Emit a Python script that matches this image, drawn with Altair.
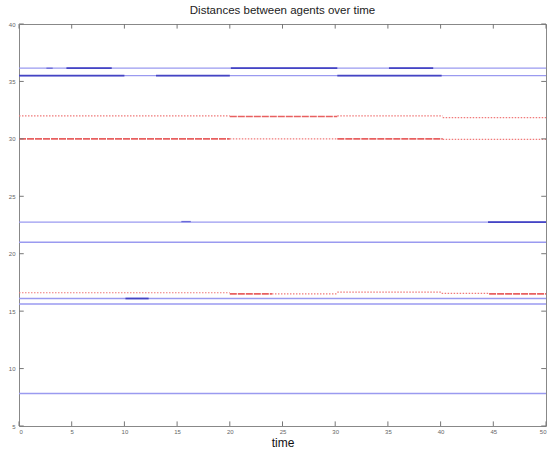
import altair as alt
import pandas as pd

# ---- data ----
# blue distance lines (full span, light)
blue_levels = [36.15, 35.5, 22.75, 21.0, 16.1, 15.62, 7.83]

# darker blue segments: (start, end, value)
blue_dark_start = [4.5, 20.1, 35.1, 0.0, 13.0, 30.2, 44.5, 10.1]
blue_dark_end   = [8.8, 30.2, 39.3, 10.0, 20.0, 40.1, 50.0, 12.3]
blue_dark_value = [36.15, 36.15, 36.15, 35.5, 35.5, 35.5, 22.75, 16.1]

# faint blue dashes
blue_faint_start = [2.6, 15.4]
blue_faint_end   = [3.2, 16.3]
blue_faint_value = [36.15, 22.8]

# red segments: (start, end, value, kind)
red_start = [0.0, 20.0, 30.2, 40.2, 0.0, 20.0, 30.2, 40.2, 0.0, 20.0, 24.0, 30.2, 40.1, 44.6]
red_end   = [20.0, 30.2, 40.2, 50.0, 20.0, 30.2, 40.2, 50.0, 20.0, 24.0, 30.2, 40.1, 44.6, 50.0]
red_value = [32.0, 31.95, 32.0, 31.85, 30.0, 30.0, 30.0, 29.95, 16.6, 16.5, 16.5, 16.65, 16.55, 16.5]
red_kind  = ["dotted", "solid", "dotted", "dotted", "solid", "dotted", "solid", "dotted",
             "dotted", "solid", "dotted", "dotted", "dotted", "solid"]

x_ticks = [0, 5, 10, 15, 20, 25, 30, 35, 40, 45, 50]
y_ticks = [5, 10, 15, 20, 25, 30, 35, 40]

# ---- tables ----
rows = []
for v in blue_levels:
    rows.append({"x0": 0.0, "x1": 50.0, "v": v, "kind": "blue_light"})
for s, e, v in zip(blue_dark_start, blue_dark_end, blue_dark_value):
    rows.append({"x0": s, "x1": e, "v": v, "kind": "blue_dark"})
for s, e, v in zip(blue_faint_start, blue_faint_end, blue_faint_value):
    rows.append({"x0": s, "x1": e, "v": v, "kind": "blue_faint"})
for s, e, v, k in zip(red_start, red_end, red_value, red_kind):
    rows.append({"x0": s, "x1": e, "v": v, "kind": "red_" + k})
segs = pd.DataFrame(rows)

xs = alt.Scale(domain=[0, 50], nice=False, zero=False)
ys = alt.Scale(domain=[5, 40], nice=False, zero=False)


def layer_for(kind, color, width, dash=None):
    props = dict(color=color, strokeWidth=width)
    if dash:
        props["strokeDash"] = dash
    return alt.Chart(segs).transform_filter(alt.datum.kind == kind).mark_rule(**props).encode(
        x=alt.X("x0:Q", scale=xs,
                axis=alt.Axis(values=x_ticks, ticks=False, labelFontSize=6, labelColor="#666",
                              labelPadding=2, domain=False, grid=False, title="time",
                              titleFontSize=12, titleFontWeight="normal", titleColor="#111",
                              titleFont="Liberation Sans", labelFont="Liberation Sans",
                              titlePadding=3)),
        x2="x1:Q",
        y=alt.Y("v:Q", scale=ys,
                axis=alt.Axis(values=y_ticks, ticks=False, labelFontSize=6, labelColor="#666",
                              labelPadding=4, domain=False, grid=False, title=None,
                              labelFont="Liberation Sans")),
    )

l_blue = layer_for("blue_light", "#9a9af0", 1.3)
l_blue_f = layer_for("blue_faint", "#6a6ad8", 1.3)
l_blue_d = layer_for("blue_dark", "#4444c4", 1.7)
l_red_dot = layer_for("red_dotted", "#f07a7a", 1.2, dash=[1.5, 1.5])
l_red_sol = layer_for("red_solid", "#e86060", 1.6, dash=[7, 1])

# inner ticks (MATLAB style box)
xt = pd.DataFrame({"t": x_ticks})
yt = pd.DataFrame({"t": y_ticks})
tick_color = "#777"
bottom_ticks = alt.Chart(xt).mark_rule(color=tick_color, strokeWidth=1).encode(
    x=alt.X("t:Q", scale=xs), y=alt.datum(5, scale=ys), y2=alt.datum(5.4))
top_ticks = alt.Chart(xt).mark_rule(color=tick_color, strokeWidth=1).encode(
    x=alt.X("t:Q", scale=xs), y=alt.datum(40, scale=ys), y2=alt.datum(39.6))
left_ticks = alt.Chart(yt).mark_rule(color=tick_color, strokeWidth=1).encode(
    y=alt.Y("t:Q", scale=ys), x=alt.datum(0, scale=xs), x2=alt.datum(0.45))
right_ticks = alt.Chart(yt).mark_rule(color=tick_color, strokeWidth=1).encode(
    y=alt.Y("t:Q", scale=ys), x=alt.datum(50, scale=xs), x2=alt.datum(49.55))

chart = alt.layer(
    l_blue, l_blue_f, l_blue_d, l_red_dot, l_red_sol,
    bottom_ticks, top_ticks, left_ticks, right_ticks
).properties(
    width=527, height=402,
    title=alt.TitleParams("Distances between agents over time", fontSize=11.5,
                          fontWeight="normal", color="#222", font="Liberation Sans",
                          offset=5, anchor="middle"),
    autosize=alt.AutoSizeParams(type="none"),
    padding={"left": 19, "top": 24, "right": 4, "bottom": 25},
    background="white",
).configure_view(stroke="#888", strokeWidth=1)

chart.save("out.html", embed_options={"renderer": "svg", "actions": False})
